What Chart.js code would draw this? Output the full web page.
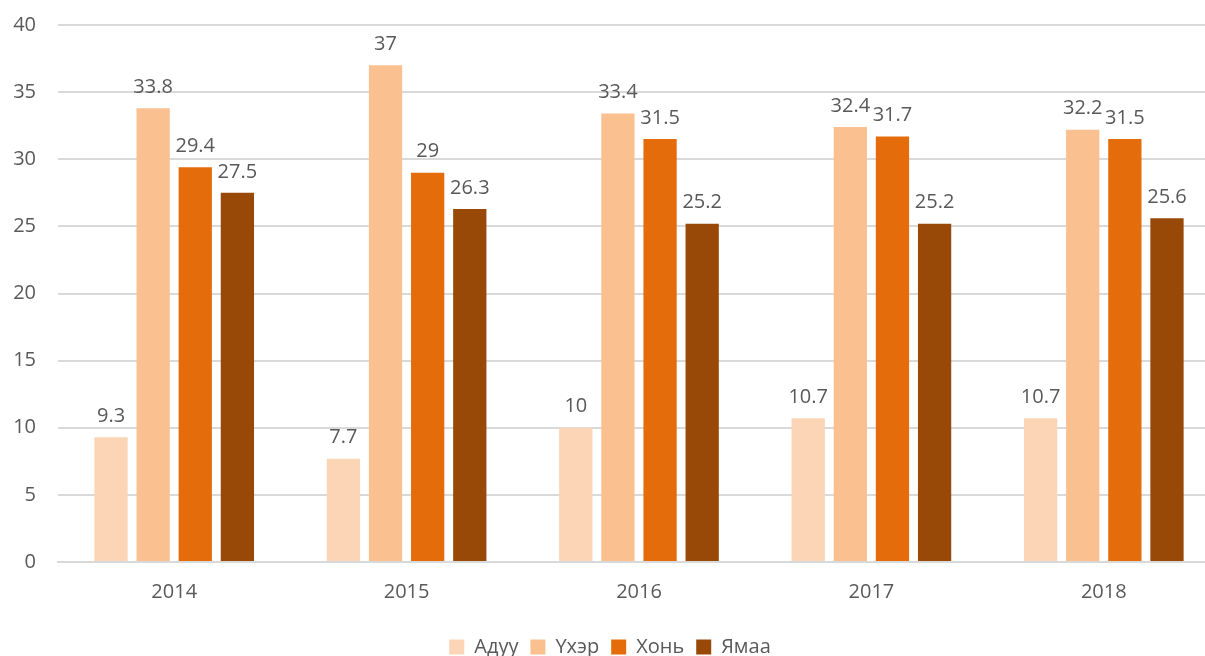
<!DOCTYPE html>
<html>
<head>
<meta charset="utf-8">
<script src="https://cdn.jsdelivr.net/npm/chart.js@4.4.1/dist/chart.umd.min.js"></script>
<style>
  html, body { margin: 0; padding: 0; background: #fff; overflow: hidden; }
  #wrap { width: 1220px; height: 665px; margin-top: -9px; }
</style>
</head>
<body>
<div id="wrap"><canvas id="myBarChart"></canvas></div>
<script>
// chart values
var years = ["2014", "2015", "2016", "2017", "2018"];
var seriesNames = ["Адуу", "Үхэр", "Хонь", "Ямаа"];
var aduu = [9.3, 7.7, 10, 10.7, 10.7];
var ukher = [33.8, 37, 33.4, 32.4, 32.2];
var khoni = [29.4, 29, 31.5, 31.7, 31.5];
var yamaa = [27.5, 26.3, 25.2, 25.2, 25.6];
var yTicks = [0, 5, 10, 15, 20, 25, 30, 35, 40];

var colors = ["#FBD5B5", "#FAC090", "#E46C0A", "#984807"];
var fontFamily = "'Open Sans', 'Noto Sans', sans-serif";
var textColor = "#595959";

// draw the value above each bar
var barLabels = {
  id: "barLabels",
  afterDatasetsDraw: function(chart) {
    var ctx = chart.ctx;
    ctx.save();
    ctx.font = "20px " + fontFamily;
    ctx.fillStyle = textColor;
    ctx.textAlign = "center";
    ctx.textBaseline = "bottom";
    chart.data.datasets.forEach(function(ds, i) {
      var meta = chart.getDatasetMeta(i);
      meta.data.forEach(function(bar, j) {
        ctx.fillText(String(ds.data[j]), bar.x, bar.y - 11);
      });
    });
    ctx.restore();
  }
};

var chartdata = {
  labels: years,
  datasets: [aduu, ukher, khoni, yamaa].map(function(vals, i) {
    return {
      label: seriesNames[i],
      data: vals,
      backgroundColor: colors[i],
      borderWidth: 0,
      categoryPercentage: 0.725,
      barPercentage: 0.79
    };
  })
};

var ctx = document.getElementById("myBarChart");

var chart = new Chart(ctx, {
  type: "bar",
  data: chartdata,
  plugins: [barLabels],
  options: {
    responsive: true,
    maintainAspectRatio: false,
    animation: false,
    layout: { padding: { top: 0, left: 0, right: 0, bottom: -11 } },
    plugins: {
      tooltip: { enabled: false },
      legend: {
        display: true,
        position: "bottom",
        labels: {
          boxWidth: 15,
          boxHeight: 15,
          padding: 12,
          color: textColor,
          font: { family: fontFamily, size: 20 }
        }
      }
    },
    scales: {
      x: {
        grid: { display: false, drawTicks: false },
        border: { color: "#D9D9D9", width: 2 },
        ticks: { color: textColor, padding: 18, font: { family: fontFamily, size: 20 } },
        afterFit: function(scale) { scale.height = 63; }
      },
      y: {
        min: 0,
        max: 40,
        afterBuildTicks: function(scale) {
          scale.ticks = yTicks.map(function(v) { return { value: v }; });
        },
        grid: { color: "#D9D9D9", lineWidth: 2, drawTicks: false },
        border: { display: false },
        ticks: { color: textColor, padding: 22, font: { family: fontFamily, size: 20 } },
        afterFit: function(scale) { scale.width = 58; }
      }
    }
  }
});
</script>
</body>
</html>
